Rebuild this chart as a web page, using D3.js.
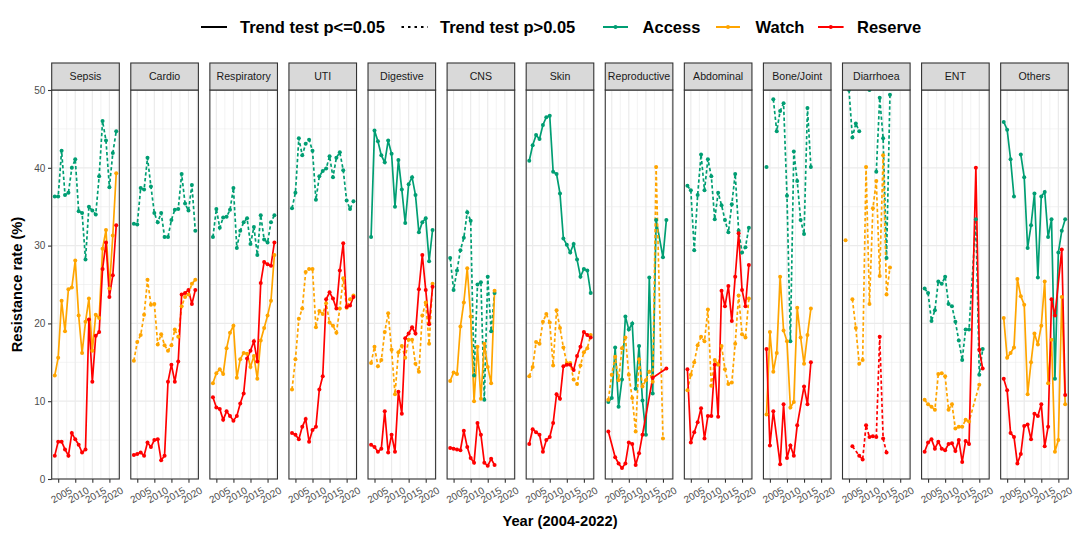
<!DOCTYPE html>
<html><head><meta charset="utf-8">
<script src="https://cdn.jsdelivr.net/npm/d3@7"></script>
<style>body{margin:0;background:#fff;} svg{display:block;font-family:"Liberation Sans",Arial,Helvetica,sans-serif;}</style>
</head><body><svg id="c" width="1080" height="540"></svg>
<script>
// ---------------- DATA ----------------
// null = no observation (line continues to next point); NaN = missing/out of range (line breaks)
const N = null, B = NaN;
const years = [2004,2005,2006,2007,2008,2009,2010,2011,2012,2013,2014,2015,2016,2017,2018,2019,2020,2021,2022];
const categories = ["Sepsis","Cardio","Respiratory","UTI","Digestive","CNS","Skin","Reproductive","Abdominal","Bone/Joint","Diarrhoea","ENT","Others"];
const seriesNames = ["Access","Watch","Reserve"];
const yTicks = [0,10,20,30,40,50];
const xTicks = [2005,2010,2015,2020];

const access = [
  [36.3,36.3,42.2,36.5,36.8,40.0,41.1,34.4,34.2,28.2,35.0,34.5,34.0,38.9,46.0,43.5,37.5,41.9,44.7],
  [32.8,32.7,37.4,37.2,41.3,37.6,34.2,33.0,34.2,31.1,31.1,33.3,34.6,34.7,39.2,35.4,34.5,37.8,31.9],
  [31.1,34.7,32.3,33.6,33.7,34.6,37.4,29.7,31.9,33.0,33.5,30.2,32.4,28.8,33.9,30.8,30.4,33.0,33.9],
  [34.8,36.8,43.8,41.6,43.1,43.6,42.2,35.9,38.9,39.6,39.9,41.5,38.8,41.3,42.0,39.7,35.8,34.7,35.7],
  [31.1,44.8,43.4,41.6,40.7,43.5,41.8,35.0,41.0,37.2,32.9,37.9,38.8,36.5,31.7,33.0,33.5,28.0,32.0],
  [28.4,24.3,26.8,29.4,31.0,34.3,33.2,13.3,25.0,25.3,10.2,26.0,19.0,23.9,N,N,N,N,N],
  [40.9,42.9,44.2,43.7,45.5,46.5,46.7,39.5,39.2,36.7,30.9,30.1,29.1,30.2,28.2,26.0,27.0,26.8,23.9],
  [9.9,10.4,16.9,9.3,12.8,20.9,19.2,20.0,11.6,17.1,10.1,5.7,25.9,11.0,33.3,N,28.5,33.3,N],
  [37.7,37.1,29.4,36.5,41.7,37.1,41.1,38.9,33.4,36.8,35.2,33.3,31.7,35.3,39.2,31.9,29.1,29.8,32.3],
  [40.1,B,48.8,44.7,47.3,48.3,36.4,17.7,42.1,38.3,33.3,31.5,47.7,40.1,N,N,N,N,N],
  [B,50.0,43.9,45.7,44.7,B,B,50.0,B,39.5,49.0,43.8,28.4,49.4,N,N,N,N,N],
  [24.5,23.9,20.3,21.7,25.4,25.1,26.0,22.5,22.2,20.2,17.8,15.3,19.2,19.2,N,33.4,13.4,16.7,N],
  [45.9,44.9,41.1,36.3,B,41.7,38.8,29.7,32.6,36.7,25.9,36.3,36.9,31.1,33.4,12.9,29.1,31.9,33.4]
];
const watch = [
  [13.3,15.6,22.9,19.0,24.4,24.6,28.1,21.0,16.2,20.2,23.2,16.5,21.1,20.7,29.6,32.0,24.5,31.3,39.3],
  [15.2,17.6,18.5,21.1,25.6,22.4,22.5,17.3,18.6,17.2,16.5,17.2,19.2,18.3,22.2,23.4,23.7,25.1,25.6],
  [12.3,13.6,14.1,13.5,16.8,18.8,19.7,13.0,15.4,16.2,16.1,14.4,15.8,12.9,17.8,19.4,21.0,22.9,28.8],
  [11.5,15.4,20.6,21.9,26.6,27.0,27.0,19.5,21.6,21.2,22.6,20.1,19.7,18.8,21.9,25.8,22.0,23.1,23.6],
  [14.9,17.0,14.5,15.3,18.9,21.3,16.6,10.9,16.3,17.1,15.6,17.9,17.9,14.8,13.8,21.0,22.7,17.4,25.1],
  [12.6,13.7,13.5,19.6,22.7,27.1,20.9,10.0,17.0,10.3,17.4,14.4,12.3,24.2,N,N,N,N,N],
  [13.2,14.4,17.6,17.4,20.2,21.2,20.1,14.6,21.7,19.4,16.9,14.9,14.9,12.8,12.2,14.6,16.3,16.8,18.5],
  [10.2,13.4,15.7,12.7,16.8,18.2,13.4,10.4,6.1,15.4,11.9,12.7,13.8,12.5,40.1,N,5.2,N,N],
  [11.4,13.4,15.0,17.2,18.3,17.7,21.8,12.0,15.3,14.7,17.1,14.1,12.2,12.4,17.4,23.6,18.6,18.2,23.2],
  [8.3,18.9,13.8,16.2,26.0,19.1,17.7,9.2,9.9,22.0,18.2,14.8,18.5,21.9,N,N,N,N,N],
  [30.7,B,23.1,19.4,14.8,15.3,40.1,22.5,34.8,38.3,26.1,41.6,23.7,27.2,N,N,N,N,N],
  [10.2,9.6,9.3,8.9,13.5,13.6,13.2,8.9,9.6,6.5,6.7,6.7,7.6,7.4,N,N,12.1,N,N],
  [20.7,15.6,16.2,16.9,25.7,23.5,22.4,10.9,15.0,18.7,17.3,19.7,25.4,12.3,17.9,3.5,5.0,23.4,9.6]
];
const reserve = [
  [3.0,4.8,4.8,3.8,3.0,5.9,5.1,4.4,3.4,3.8,20.5,12.5,18.4,18.9,27.0,30.4,23.4,26.2,32.6],
  [3.1,3.2,3.4,3.0,4.7,4.1,5.0,5.1,2.4,3.0,12.5,14.7,12.5,15.1,23.7,23.9,24.3,22.5,24.3],
  [10.5,9.2,9.0,7.6,8.7,8.1,7.5,8.1,9.7,11.0,15.5,16.5,17.7,15.1,25.2,27.9,27.6,27.4,30.4],
  [5.9,5.7,5.1,6.7,7.7,4.8,6.3,6.7,11.5,13.2,23.1,24.0,23.2,21.9,26.8,30.3,22.1,22.3,23.4],
  [4.4,4.1,3.5,3.9,8.7,3.4,5.7,3.5,11.2,8.4,18.1,18.7,19.5,18.7,24.4,28.8,24.3,19.9,24.7],
  [4.0,3.9,3.8,3.7,6.2,4.1,2.7,2.1,7.2,5.7,2.1,1.7,2.6,1.8,N,N,N,N,N],
  [4.5,6.4,6.0,5.7,3.5,5.0,5.4,7.2,10.9,10.3,14.5,14.7,14.7,14.0,15.8,17.0,18.9,18.5,18.2],
  [6.1,N,2.8,2.0,1.4,2.0,4.7,4.5,1.8,3.3,5.7,N,N,13.0,N,N,N,14.2,N],
  [14.1,4.7,6.0,7.3,9.1,5.2,8.1,8.1,14.7,8.0,24.2,22.2,24.8,20.3,26.0,31.6,24.3,22.2,27.5],
  [16.7,4.3,8.7,N,1.9,9.6,2.7,4.3,3.0,6.9,N,11.9,9.6,15.0,N,N,N,N,N],
  [N,N,4.2,N,3.0,2.5,6.9,5.4,5.5,5.4,18.3,5.2,3.4,N,N,N,N,N,N],
  [3.5,4.7,5.1,3.9,4.8,3.9,3.7,4.5,4.6,3.6,5.0,2.2,4.9,4.5,N,40.0,16.6,14.2,N],
  [12.9,11.4,5.9,5.4,2.0,3.2,6.8,7.0,5.1,8.4,8.1,9.6,4.2,6.7,23.1,21.0,N,29.5,10.8]
];
// trend test significant (p<=0.05) -> solid line, otherwise dashed
const accessSig  = [false,false,false,false,true,false,true,true,false,false,false,false,true];
const watchSig   = [true,false,true,false,false,true,false,false,false,true,false,false,true];
const reserveSig = [true,true,true,true,true,true,true,true,true,true,false,true,true];

// ---------------- STYLE ----------------
const colors = {Access:"#009E73", Watch:"#FFA500", Reserve:"#FF0000"};
const dash = "3.4,2.4";
const panelW = 67.6, step = 79.08, left0 = 51.7, panelTop = 90, panelBottom = 479, stripTop = 63;
const ph = panelBottom - panelTop;

const svg = d3.select("#c");
const defs = svg.append("defs");
const x = d3.scaleLinear().domain([2003.1, 2022.9]).range([0, panelW]);
const y = d3.scaleLinear().domain([0, 50]).range([ph, 0]);

const seriesData = [access, watch, reserve];
const seriesSig = [accessSig, watchSig, reserveSig];

categories.forEach((cat, i) => {
  const g = svg.append("g").attr("transform", `translate(${left0 + i*step},${panelTop})`);
  defs.append("clipPath").attr("id", "clip" + i)
    .append("rect").attr("width", panelW).attr("height", ph);
  g.append("rect").attr("width", panelW).attr("height", ph).attr("fill", "#fff");
  // minor grid
  [5,15,25,35,45].forEach(v => g.append("line").attr("x1",0).attr("x2",panelW).attr("y1",y(v)).attr("y2",y(v)).attr("stroke","#EBEBEB").attr("stroke-width",0.6));
  [2007.5,2012.5,2017.5,2022.5].forEach(v => g.append("line").attr("y1",0).attr("y2",ph).attr("x1",x(v)).attr("x2",x(v)).attr("stroke","#EBEBEB").attr("stroke-width",0.6));
  // major grid
  yTicks.forEach(v => g.append("line").attr("x1",0).attr("x2",panelW).attr("y1",y(v)).attr("y2",y(v)).attr("stroke","#EBEBEB").attr("stroke-width",1.2));
  xTicks.forEach(v => g.append("line").attr("y1",0).attr("y2",ph).attr("x1",x(v)).attr("x2",x(v)).attr("stroke","#EBEBEB").attr("stroke-width",1.2));

  const plot = g.append("g").attr("clip-path", `url(#clip${i})`);
  const line = d3.line().defined(d => !Number.isNaN(d.v)).x(d => x(d.year)).y(d => y(d.v));
  const allPts = [];
  seriesNames.forEach((s, k) => {
    const pts = years.map((yr, j) => ({year: yr, v: seriesData[k][i][j]})).filter(d => d.v !== null);
    plot.append("path").datum(pts).attr("d", line)
      .attr("fill","none").attr("stroke", colors[s]).attr("stroke-width",1.7)
      .attr("stroke-dasharray", seriesSig[k][i] ? null : dash);
    pts.filter(d => !Number.isNaN(d.v)).forEach(d => allPts.push({...d, s}));
  });
  plot.selectAll("circle").data(allPts).join("circle")
    .attr("cx", d => x(d.year)).attr("cy", d => y(d.v)).attr("r", 2)
    .attr("fill", d => colors[d.s]);

  g.append("rect").attr("width", panelW).attr("height", ph).attr("fill","none").attr("stroke","#333333").attr("stroke-width",1.1);
  // strip
  g.append("rect").attr("y", stripTop - panelTop).attr("width", panelW).attr("height", panelTop - stripTop)
    .attr("fill","#D9D9D9").attr("stroke","#333333").attr("stroke-width",1.1);
  g.append("text").attr("x", panelW/2).attr("y", (stripTop - panelTop)/2).attr("dy","0.35em")
    .attr("text-anchor","middle").attr("font-size","10.6px").attr("fill","#1A1A1A").text(cat);
  // x axis
  const ax = g.append("g").attr("transform", `translate(0,${ph})`)
    .call(d3.axisBottom(x).tickValues(xTicks).tickSize(3.7).tickFormat(d3.format("d")));
  ax.select(".domain").remove();
  ax.selectAll(".tick line").attr("stroke","#333333").attr("stroke-width",1.1);
  ax.selectAll(".tick text").attr("y",0).attr("dy","0.35em").attr("text-anchor","middle")
    .attr("transform","translate(2.8,16) rotate(-30)")
    .attr("font-size","10px").attr("fill","#4D4D4D").attr("font-family","Liberation Sans, Arial, sans-serif");
  if (i === 0) {
    const ay = g.append("g").call(d3.axisLeft(y).tickValues(yTicks).tickSize(3.7).tickPadding(2.6));
    ay.select(".domain").remove();
    ay.selectAll(".tick line").attr("stroke","#333333").attr("stroke-width",1.1);
    ay.selectAll(".tick text").attr("font-size","10px").attr("fill","#4D4D4D").attr("font-family","Liberation Sans, Arial, sans-serif");
  }
});

// axis titles
svg.append("text").attr("transform", `translate(17,${(panelTop+panelBottom)/2}) rotate(-90)`).attr("dy","0.35em")
  .attr("text-anchor","middle").attr("font-weight","bold").attr("font-size","14.7px").attr("fill","#000").text("Resistance rate (%)");
svg.append("text").attr("x", (left0 + left0 + 12*step + panelW)/2).attr("y", 521).attr("dy","0.35em")
  .attr("text-anchor","middle").attr("font-weight","bold").attr("font-size","14.7px").attr("fill","#000").text("Year (2004-2022)");

// legend
const lg = svg.append("g").attr("font-weight","bold").attr("font-size","16.5px");
const ly = 27;
const legendItems = [
  {x1:201, x2:227, tx:240, color:"#000", dash:null, pt:false, label:"Trend test p<=0.05"},
  {x1:401.5, x2:428, tx:440, color:"#000", dash:"2.5,4", pt:false, label:"Trend test p>0.05"},
  {x1:603, x2:628, tx:642.6, color:colors.Access, dash:null, pt:true, label:"Access"},
  {x1:716, x2:740, tx:755.5, color:colors.Watch, dash:null, pt:true, label:"Watch"},
  {x1:818, x2:843.6, tx:857, color:colors.Reserve, dash:null, pt:true, label:"Reserve"}
];
legendItems.forEach(d => {
  lg.append("line").attr("x1",d.x1).attr("x2",d.x2).attr("y1",ly).attr("y2",ly)
    .attr("stroke",d.color).attr("stroke-width",2).attr("stroke-dasharray",d.dash);
  if (d.pt) lg.append("circle").attr("cx",(d.x1+d.x2)/2).attr("cy",ly).attr("r",2).attr("fill",d.color);
  lg.append("text").attr("x",d.tx).attr("y",ly).attr("dy","0.35em").attr("fill","#000").text(d.label);
});
</script></body></html>
